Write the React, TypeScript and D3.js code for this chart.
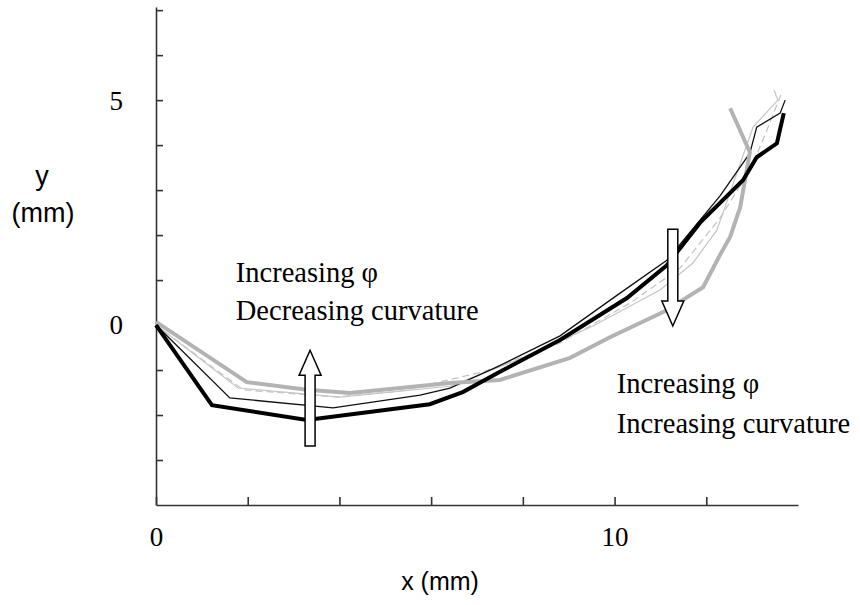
import React, { useEffect, useRef } from 'react';
import * as d3 from 'd3';

// axis ticks (mm)
const xTicks = [0, 2, 4, 6, 8, 10, 12];
const xTickLabels = [0, 10];
const yTicks = [-3, -2, -1, 0, 1, 2, 3, 4, 5, 6, 7];
const yTickLabels = [0, 5];

// profiles for different phi (x mm, y mm)
const thickBlack: [number, number][] = [
  [0, 0], [1.22, -1.78], [3.29, -2.11], [5.97, -1.76], [6.69, -1.49], [7.5, -1.04],
  [8.81, -0.33], [10.27, 0.6], [11.14, 1.33], [11.86, 2.27], [12.8, 3.22],
  [13.1, 3.73], [13.54, 4.04], [13.69, 4.71],
];
const thinBlack: [number, number][] = [
  [0, 0], [1.61, -1.62], [3.86, -1.84], [5.76, -1.56], [6.41, -1.4], [7.44, -0.93],
  [8.81, -0.24], [10.12, 0.71], [11.14, 1.44], [12.3, 2.87], [12.95, 3.82],
  [13.1, 4.4], [13.61, 4.71], [13.72, 5.0],
];
const thickGray: [number, number][] = [
  [0, 0.07], [1.98, -1.27], [3.29, -1.44], [4.23, -1.51], [5.32, -1.4], [6.41, -1.29],
  [7.5, -1.22], [9.03, -0.73], [9.9, -0.27], [11.14, 0.33], [11.49, 0.56],
  [11.93, 0.84], [12.3, 1.56], [12.52, 1.96], [12.74, 2.62], [12.95, 3.84], [12.52, 4.82],
];
const thinGray: [number, number][] = [
  [0, 0], [1.79, -1.4], [4.01, -1.6], [6.41, -1.36], [8.09, -0.69], [9.53, -0.02],
  [10.99, 0.78], [11.71, 1.38], [12.23, 2.11], [13.02, 4.4], [13.56, 5.0], [13.48, 5.22],
];
const dashedGray: [number, number][] = [
  [0, 0], [1.9, -1.44], [3.95, -1.6], [5.32, -1.47], [7.13, -1.04], [8.81, -0.4],
  [10.34, 0.49], [11.43, 1.27], [12.3, 2.38], [12.95, 3.44], [13.28, 4.22], [13.65, 5.18],
];

// annotation arrows [x, yFrom, yTo] in mm
const upArrow = [3.36, -2.69, -0.56];
const downArrow = [11.27, 2.13, -0.02];

export default function App() {
  const ref = useRef<SVGSVGElement>(null);

  useEffect(() => {
    const svg = d3.select(ref.current);
    svg.selectAll('*').remove();

    const x = d3.scaleLinear().domain([0, 14]).range([156, 798]);
    const y = d3.scaleLinear().domain([-4, 7.07]).range([505, 7]);

    const serif = '"Liberation Serif", "Times New Roman", serif';
    const sans = '"Liberation Sans", Arial, sans-serif';

    // y axis, ticks pointing inward
    const gy = svg.append('g')
      .attr('transform', `translate(${x(0)},0)`)
      .call(d3.axisLeft(y).tickValues(yTicks).tickSize(-7).tickSizeOuter(0).tickPadding(33)
        .tickFormat((d: any) => (yTickLabels.includes(d) ? String(d) : '')));
    gy.select('.domain').attr('stroke', '#333').attr('stroke-width', 1.6);
    gy.selectAll('.tick line').attr('stroke', '#333').attr('stroke-width', 1.6);
    gy.selectAll('.tick text').attr('font-family', serif).attr('font-size', 27).attr('fill', '#000')
      .attr('dy', '0.33em');

    const gx = svg.append('g')
      .attr('transform', `translate(0,${y(-4)})`)
      .call(d3.axisBottom(x).tickValues(xTicks).tickSize(-8).tickSizeOuter(0).tickPadding(22)
        .tickFormat((d: any) => (xTickLabels.includes(d) ? String(d) : '')));
    gx.select('.domain').attr('stroke', '#333').attr('stroke-width', 1.6);
    gx.selectAll('.tick line').attr('stroke', '#333').attr('stroke-width', 1.6);
    gx.selectAll('.tick text').attr('font-family', serif).attr('font-size', 27).attr('fill', '#000');

    const line = d3.line<[number, number]>()
      .x(d => x(d[0]))
      .y(d => y(d[1]));

    const series = [
      { data: dashedGray, color: '#c2c2c2', width: 1.2, dash: '7,4' },
      { data: thinGray, color: '#c6c6c6', width: 1.2, dash: null },
      { data: thinBlack, color: '#111', width: 1.3, dash: null },
      { data: thickGray, color: '#b3b3b3', width: 4, dash: null },
      { data: thickBlack, color: '#000', width: 4, dash: null },
    ];

    svg.append('g').selectAll('path')
      .data(series)
      .enter()
      .append('path')
      .attr('d', d => line(d.data))
      .attr('fill', 'none')
      .attr('stroke', d => d.color)
      .attr('stroke-width', d => d.width)
      .attr('stroke-dasharray', d => d.dash)
      .attr('stroke-linejoin', 'miter');

    // hollow block arrows
    const arrow = (a: number[]) => {
      const cx = x(a[0]);
      const y0 = y(a[1]);
      const y1 = y(a[2]);
      const dir = y1 < y0 ? -1 : 1;
      const head = 25, sw = 5, hw = 11;
      const hb = y1 - dir * head;
      const pts = [
        [cx - sw, y0], [cx - sw, hb], [cx - hw, hb], [cx, y1],
        [cx + hw, hb], [cx + sw, hb], [cx + sw, y0],
      ];
      svg.append('polygon')
        .attr('points', pts.map(p => p.join(',')).join(' '))
        .attr('fill', '#fff')
        .attr('stroke', '#000')
        .attr('stroke-width', 1.5);
    };
    arrow(upArrow);
    arrow(downArrow);

    const notes = [
      { x: 1.74, y: 0.96, text: 'Increasing φ' },
      { x: 1.74, y: 0.11, text: 'Decreasing curvature' },
      { x: 10.05, y: -1.51, text: 'Increasing φ' },
      { x: 10.05, y: -2.4, text: 'Increasing curvature' },
    ];
    svg.append('g').selectAll('text')
      .data(notes)
      .enter()
      .append('text')
      .attr('x', d => x(d.x))
      .attr('y', d => y(d.y))
      .attr('font-family', serif)
      .attr('font-size', 28.5)
      .text(d => d.text);

    svg.append('text')
      .attr('x', 42).attr('y', 185)
      .attr('text-anchor', 'middle')
      .attr('font-family', sans).attr('font-size', 27)
      .text('y');
    svg.append('text')
      .attr('x', 43).attr('y', 222)
      .attr('text-anchor', 'middle')
      .attr('font-family', sans).attr('font-size', 27)
      .text('(mm)');
    svg.append('text')
      .attr('x', 440).attr('y', 590)
      .attr('text-anchor', 'middle')
      .attr('font-family', sans).attr('font-size', 25)
      .text('x (mm)');
  }, []);

  return (
    <svg
      ref={ref}
      width={860}
      height={605}
      style={{ position: 'absolute', left: 0, top: 0, background: '#fff' }}
    />
  );
}
